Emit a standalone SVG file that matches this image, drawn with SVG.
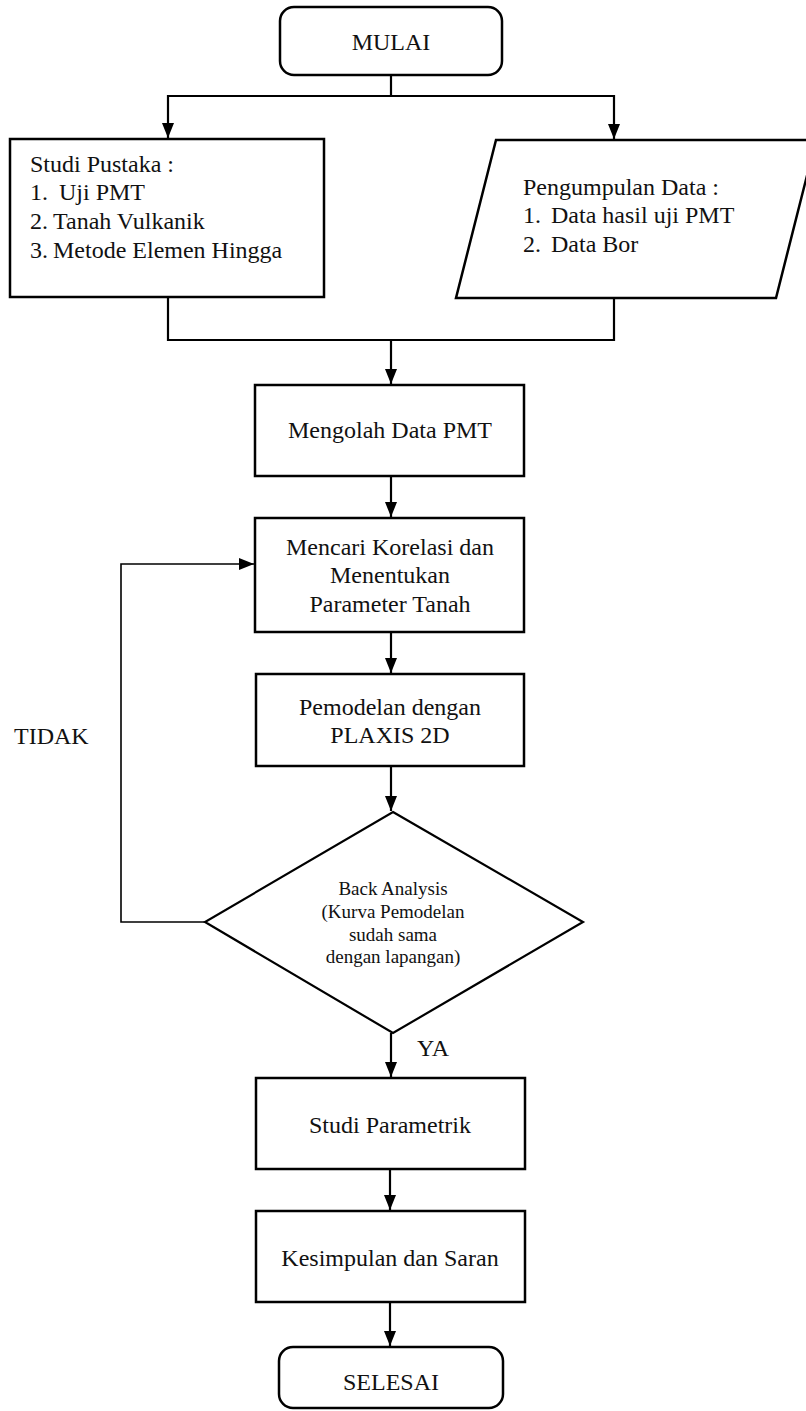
<svg xmlns="http://www.w3.org/2000/svg" width="806" height="1411" viewBox="0 0 806 1411">
<style>
.box{fill:#fff;stroke:#000;stroke-width:2.5}
.t{font-family:"Liberation Serif","Times New Roman",serif;font-size:24px;fill:#111}
.c{text-anchor:middle}
.s{font-size:19px}
.con{fill:none;stroke:#000;stroke-width:2.2}
.thin{stroke-width:1.6}
</style>
<defs>
<marker id="ah" markerUnits="userSpaceOnUse" markerWidth="15" markerHeight="12" refX="15" refY="6" orient="auto">
<path d="M0,0 L15,6 L0,12 z" fill="#000"/>
</marker>
</defs>
<rect width="806" height="1411" fill="#fff"/>
<g id="connectors">
<path class="con" d="M391,75 V96 H168 V138" marker-end="url(#ah)"/>
<path class="con" d="M391,96 H614 V139" marker-end="url(#ah)"/>
<path class="con" d="M168,297 V340 H614 V298"/>
<path class="con" d="M391,340 V384" marker-end="url(#ah)"/>
<path class="con" d="M391,476 V517" marker-end="url(#ah)"/>
<path class="con" d="M391,632 V673" marker-end="url(#ah)"/>
<path class="con" d="M391,766 V811" marker-end="url(#ah)"/>
<path class="con" d="M391,1033 V1077" marker-end="url(#ah)"/>
<path class="con" d="M390,1169 V1210" marker-end="url(#ah)"/>
<path class="con" d="M390,1302 V1346" marker-end="url(#ah)"/>
<path class="con thin" d="M205,922 H121 V564 H254" marker-end="url(#ah)"/>
<text class="t" x="14" y="744">TIDAK</text>
<text class="t" x="417" y="1056">YA</text>
</g>
<g id="mulai">
<rect class="box" x="280" y="7" width="222" height="68" rx="14"/>
<text class="t c" x="391" y="50">MULAI</text>
</g>
<g id="studi-pustaka">
<rect class="box" x="10" y="139" width="314" height="158"/>
<text class="t" x="30" y="172">Studi Pustaka :</text>
<text class="t" x="30" y="200">1.<tspan x="59">Uji PMT</tspan></text>
<text class="t" x="30" y="229">2.<tspan x="53">Tanah Vulkanik</tspan></text>
<text class="t" x="30" y="258">3.<tspan x="53">Metode Elemen Hingga</tspan></text>
</g>
<g id="pengumpulan-data">
<polygon class="box" points="496,140 816,140 776,298 456,298"/>
<text class="t" x="523" y="195">Pengumpulan Data :</text>
<text class="t" x="523" y="223">1.<tspan x="551">Data hasil uji PMT</tspan></text>
<text class="t" x="523" y="252">2.<tspan x="551">Data Bor</tspan></text>
</g>
<g id="mengolah">
<rect class="box" x="255" y="385" width="269" height="91"/>
<text class="t c" x="390" y="438">Mengolah Data PMT</text>
</g>
<g id="mencari">
<rect class="box" x="255" y="518" width="269" height="114"/>
<text class="t c" x="390" y="555">Mencari Korelasi dan</text>
<text class="t c" x="390" y="583">Menentukan</text>
<text class="t c" x="390" y="612">Parameter Tanah</text>
</g>
<g id="pemodelan">
<rect class="box" x="256" y="674" width="268" height="92"/>
<text class="t c" x="390" y="715">Pemodelan dengan</text>
<text class="t c" x="390" y="743">PLAXIS 2D</text>
</g>
<g id="back-analysis">
<polygon class="box" points="393,812 583,922 393,1033 205,922" style="stroke-width:2.2"/>
<text class="t c s" x="393" y="895">Back Analysis</text>
<text class="t c s" x="393" y="918">(Kurva Pemodelan</text>
<text class="t c s" x="393" y="941">sudah sama</text>
<text class="t c s" x="393" y="963">dengan lapangan)</text>
</g>
<g id="studi-parametrik">
<rect class="box" x="256" y="1078" width="269" height="91"/>
<text class="t c" x="390" y="1133">Studi Parametrik</text>
</g>
<g id="kesimpulan">
<rect class="box" x="256" y="1211" width="269" height="91"/>
<text class="t c" x="390" y="1266">Kesimpulan dan Saran</text>
</g>
<g id="selesai">
<rect class="box" x="279" y="1347" width="224" height="61" rx="14"/>
<text class="t c" x="391" y="1390">SELESAI</text>
</g>
</svg>
